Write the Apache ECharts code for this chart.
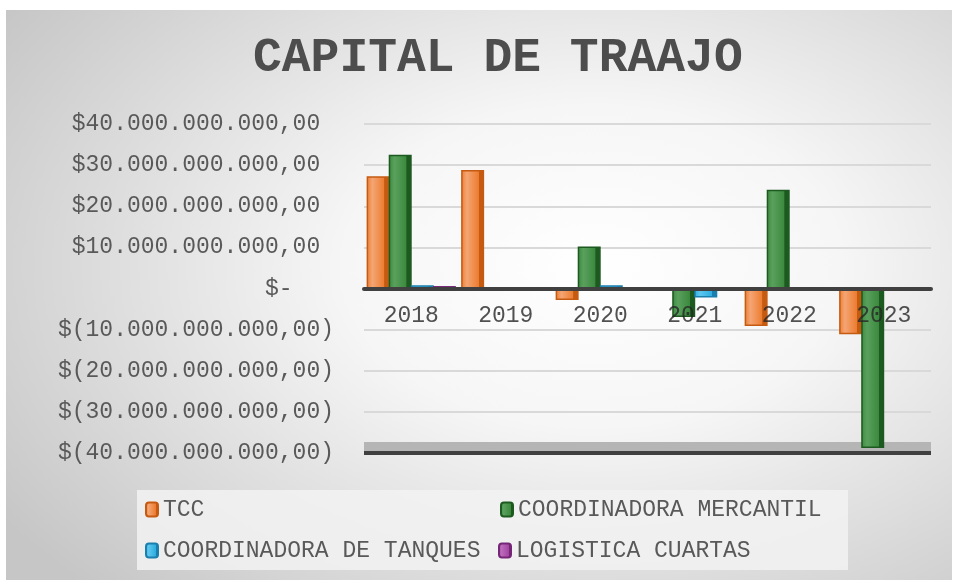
<!DOCTYPE html>
<html>
<head>
<meta charset="utf-8">
<script src="https://cdn.jsdelivr.net/npm/echarts@6/dist/echarts.min.js"></script>
<style>
  html, body { margin: 0; padding: 0; background: #fff; }
  #bg { position: absolute; left: 6px; top: 10px; width: 946px; height: 570px;
        background: radial-gradient(ellipse 75% 80% at 62% 45%, #ffffff 0%, #f6f6f6 35%, #dcdcdc 70%, #c6c6c6 100%); }
  #chart { position: absolute; left: 0; top: 0; width: 957px; height: 580px; }
</style>
</head>
<body>
<div id="bg"></div>
<div id="chart"></div>
<script>
// datos
var anios = ['2018', '2019', '2020', '2021', '2022', '2023'];
var tcc = [27.3e9, 28.8e9, -2.8e9, -0.4e9, -9.1e9, -11.1e9];
var mercantil = [32.5e9, -0.5e9, 10.2e9, -6.9e9, 24.0e9, -38.8e9];
var tanques = [0.8e9, 0.3e9, 0.8e9, -2.2e9, 0.1e9, -0.5e9];
var cuartas = [0.6e9, 0.1e9, 0.1e9, 0.2e9, 0.3e9, 0.3e9];
var nombres = ['TCC', 'COORDINADORA MERCANTIL', 'COORDINADORA DE TANQUES', 'LOGISTICA CUARTAS'];

var fuente = 'Liberation Mono, DejaVu Sans Mono, monospace';

// formato contable: $40.000.000.000,00 / $(10.000.000.000,00) / $-
function formato(v) {
    if (v === 0) return '$-   ';
    var s = Math.abs(v).toFixed(0).replace(/\B(?=(\d{3})+(?!\d))/g, '.') + ',00';
    return v < 0 ? '$(' + s + ')' : '$' + s + ' ';
}

// barra con cara lateral oscura (falso 3D)
function estilo(claro, medio, oscuro) {
    return {
        color: new echarts.graphic.LinearGradient(0, 0, 1, 0, [
            {offset: 0, color: medio},
            {offset: 0.25, color: claro},
            {offset: 0.76, color: medio},
            {offset: 0.78, color: oscuro},
            {offset: 1, color: oscuro}
        ]),
        borderColor: oscuro,
        borderWidth: 1.5
    };
}

function leyenda(nombre, left, top) {
    return {
        data: [nombre],
        left: left,
        top: top,
        padding: 0,
        itemWidth: 12,
        itemHeight: 14,
        selectedMode: false,
        textStyle: {fontFamily: fuente, fontSize: 23, color: '#595959'}
    };
}

var myChart = echarts.init(document.getElementById('chart'));
var option = {
    animation: false,
    title: {
        text: 'CAPITAL DE TRAAJO',
        left: 248,
        top: 30,
        textStyle: {fontFamily: fuente, fontSize: 48, fontWeight: 'bold', color: '#4d4d4d'}
    },
    graphic: [{
        type: 'rect',
        left: 137, top: 490,
        shape: {width: 711, height: 80},
        style: {fill: 'rgba(242,242,242,0.85)'},
        z: -1
    }],
    legend: [
        leyenda(nombres[0], 145, 498),
        leyenda(nombres[1], 500, 498),
        leyenda(nombres[2], 145, 539),
        leyenda(nombres[3], 498, 539)
    ],
    grid: {left: 364, right: 26, top: 124, bottom: 127},
    xAxis: {
        type: 'category',
        data: anios,
        z: 10,
        axisLine: {onZero: true, lineStyle: {color: '#404040', width: 4}},
        axisTick: {show: false},
        axisLabel: {show: false}
    },
    yAxis: {
        type: 'value',
        min: -40e9,
        max: 40e9,
        interval: 10e9,
        axisLine: {show: false},
        axisTick: {show: false},
        splitLine: {lineStyle: {color: '#d9d9d9', width: 2}},
        axisLabel: {fontFamily: fuente, fontSize: 23, color: '#595959', margin: 30, formatter: formato}
    },
    series: [
        {
            name: nombres[0], type: 'bar', data: tcc, barWidth: 23, barGap: '-4%',
            itemStyle: estilo('#f4a574', '#ed7d31', '#c55a11'),
            markArea: {
                silent: true,
                itemStyle: {color: '#b5b5b5'},
                data: [[{yAxis: -40e9}, {yAxis: -37.3e9}]]
            },
            markLine: {
                silent: true,
                symbol: 'none',
                label: {show: false},
                lineStyle: {color: '#404040', width: 4, type: 'solid'},
                data: [{yAxis: -40e9}]
            }
        },
        {
            name: nombres[1], type: 'bar', data: mercantil, barWidth: 23, barGap: '-4%',
            itemStyle: estilo('#5aa05d', '#3b8a3e', '#1d5a20')
        },
        {
            name: nombres[2], type: 'bar', data: tanques, barWidth: 23, barGap: '-4%',
            itemStyle: estilo('#5ec6ee', '#2eaee0', '#1b7fae')
        },
        {
            name: nombres[3], type: 'bar', data: cuartas, barWidth: 23, barGap: '-4%',
            itemStyle: estilo('#bb6bbb', '#a347a3', '#762676')
        },
        {
            // etiquetas de los años sobre la línea de cero
            type: 'scatter',
            symbolSize: 0,
            silent: true,
            z: 20,
            data: anios.map(function (a) { return [a, 0]; }),
            label: {
                show: true,
                position: 'bottom',
                distance: 16,
                formatter: function (p) { return p.data[0]; },
                fontFamily: fuente, fontSize: 23, color: '#262626'
            }
        }
    ]
};
myChart.setOption(option);
</script>
</body>
</html>
